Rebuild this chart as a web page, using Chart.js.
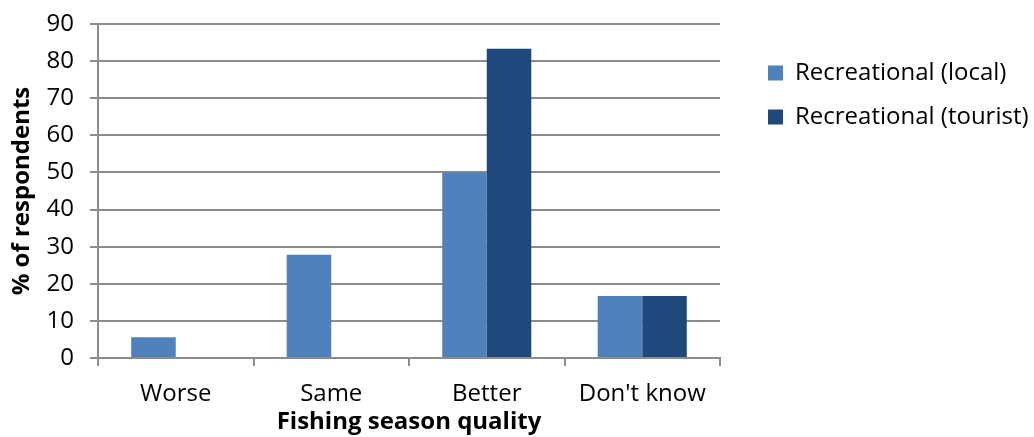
<!DOCTYPE html>
<html>
<head>
<meta charset="utf-8">
<script src="https://cdn.jsdelivr.net/npm/chart.js@4/dist/chart.umd.min.js"></script>
<style>
  html, body { margin: 0; padding: 0; background: #ffffff; }
  #wrap { width: 1034px; height: 437px; position: relative; }
</style>
</head>
<body>
<div id="wrap"><canvas id="chart" width="1034" height="437"></canvas></div>
<script>
// Fishing season quality survey (% of respondents)
const categories = ["Worse", "Same", "Better", "Don't know"];
const localValues = [5.6, 27.8, 50.0, 16.7];
const touristValues = [0, 0, 83.3, 16.7];
const seriesNames = ["Recreational (local)", "Recreational (tourist)"];
const yTicks = [0, 10, 20, 30, 40, 50, 60, 70, 80, 90];

const FONT = "'Open Sans', 'Liberation Sans', sans-serif";
const GRID = "#8c8c8c";

// Legend column: fixed width, items inset from the plot edge
const legendBox = {
  id: "legendBox",
  beforeInit(chart) {
    const lg = chart.legend;
    if (!lg) return;
    const fit = lg.fit;
    lg.fit = function () {
      fit.call(this);
      if (!this.isHorizontal()) this.width = 314;
    };
  },
  afterLayout(chart) {
    const lg = chart.legend;
    if (!lg) return;
    lg.left += 28; lg.right += 28;
    lg.top += 17; lg.bottom += 17;
  }
};

new Chart(document.getElementById("chart"), {
  type: "bar",
  data: {
    labels: categories,
    datasets: [
      { label: seriesNames[0], data: localValues, backgroundColor: "#4f81bd" },
      { label: seriesNames[1], data: touristValues, backgroundColor: "#1f497d" }
    ]
  },
  options: {
    responsive: false,
    animation: false,
    devicePixelRatio: 1,
    layout: { padding: { top: 24, right: 0, bottom: 0, left: 0 } },
    datasets: { bar: { categoryPercentage: 0.573, barPercentage: 1.0 } },
    scales: {
      x: {
        offset: true,
        afterFit: (axis) => { axis.height = 79; },
        grid: {
          offset: true,
          drawOnChartArea: false,
          drawTicks: true,
          tickLength: 8,
          color: GRID,
          lineWidth: 2
        },
        border: { color: GRID, width: 2 },
        ticks: { color: "#000", font: { family: FONT, size: 24 }, padding: 14 },
        title: {
          display: true,
          text: "Fishing season quality",
          color: "#000",
          font: { family: FONT, size: 24, weight: "bold" },
          padding: { top: 4, bottom: 0 }
        }
      },
      y: {
        min: 0,
        max: 90,
        afterBuildTicks: (axis) => { axis.ticks = yTicks.map(v => ({ value: v })); },
        afterFit: (axis) => { axis.width = 98; axis.paddingTop = 0; axis.paddingBottom = 0; },
        grid: { color: GRID, lineWidth: 2, drawTicks: true, tickLength: 8 },
        border: { color: GRID, width: 2 },
        ticks: { color: "#000", font: { family: FONT, size: 24 }, padding: 16 },
        title: {
          display: true,
          text: "% of respondents",
          color: "#000",
          font: { family: FONT, size: 24, weight: "bold" },
          padding: { top: 8, bottom: 0 }
        }
      }
    },
    plugins: {
      tooltip: { enabled: false },
      legend: {
        position: "right",
        align: "start",
        labels: {
          color: "#000",
          font: { family: FONT, size: 24 },
          boxWidth: 15,
          boxHeight: 15,
          padding: 20
        }
      }
    }
  },
  plugins: [legendBox]
});
</script>
</body>
</html>
